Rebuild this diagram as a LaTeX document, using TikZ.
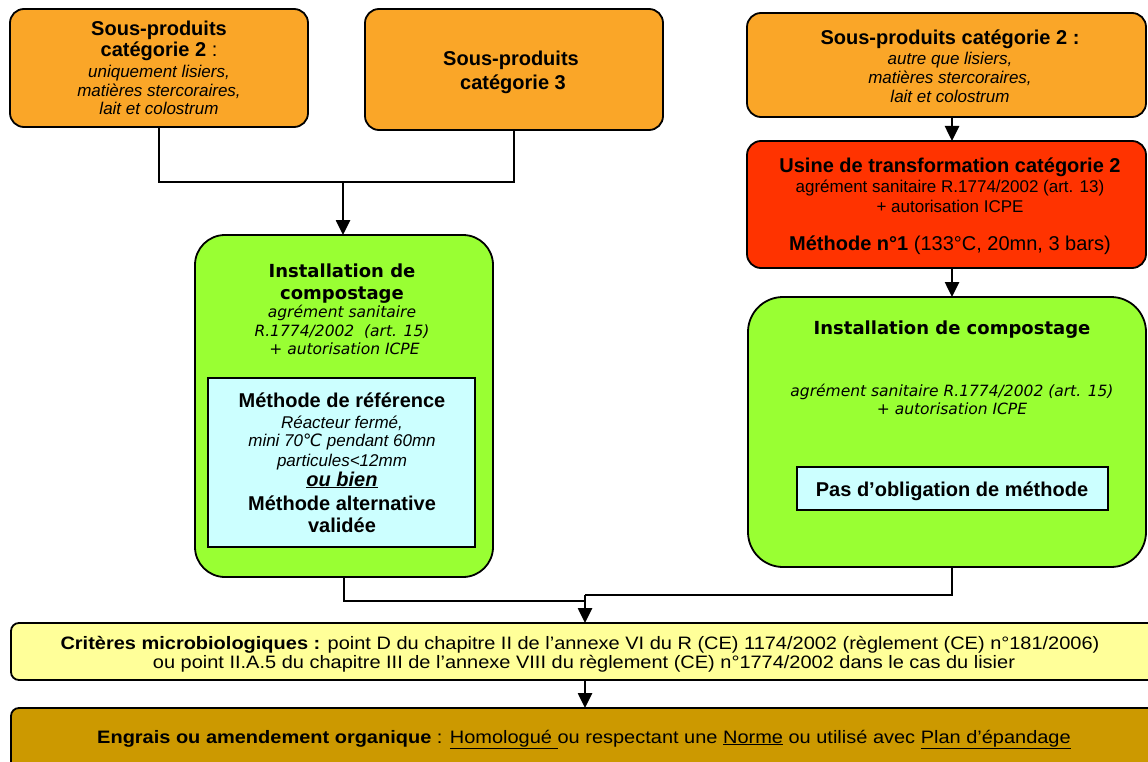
\documentclass[tikz,border=0pt]{standalone}
\usepackage{fontspec}
\setmainfont{Liberation Sans}
\newfontfamily\dvfont{DejaVu Sans}
\newfontfamily\widefont[FakeStretch=1.11]{Liberation Sans}
\usetikzlibrary{arrows.meta}
\definecolor{orng}{HTML}{FAA628}
\definecolor{redb}{HTML}{FF3300}
\definecolor{grn}{HTML}{99FF33}
\definecolor{lblue}{HTML}{CCFFFF}
\definecolor{ylw}{HTML}{FFFF99}
\definecolor{brwn}{HTML}{CC9900}
\newcommand\zzB{\fontsize{20}{24}\selectfont\bfseries}
\newcommand\zzR{\fontsize{20}{24}\selectfont\mdseries}
\newcommand\zzI{\fontsize{17}{20}\selectfont\itshape}
\newcommand\zzS{\fontsize{17}{20}\selectfont}
\newcommand\zzDB{\dvfont\fontsize{18}{22}\selectfont\bfseries}
\newcommand\zzDI{\dvfont\fontsize{15.5}{19}\selectfont\itshape}
\newcommand\zzY{\widefont\fontsize{18}{21}\selectfont}
\tikzset{
  box/.style={draw=black, line width=1.8pt, inner sep=0pt, outer sep=0pt, rectangle},
  rbox/.style={box, rounded corners=14pt},
  txt/.style={anchor=base, inner sep=0pt, outer sep=0pt},
  conn/.style={draw=black, line width=2.6pt},
  arr/.style={conn, -{Triangle[length=15pt,width=14pt]}}
}
\begin{document}
\begin{tikzpicture}[x=1pt,y=-1pt]
\useasboundingbox (0,0) rectangle (1148,762);
% boxes
\node[rbox, fill=orng, minimum width=298pt, minimum height=118pt] (A) at (159,68) {};
\node[rbox, fill=orng, minimum width=298pt, minimum height=121pt] (B) at (514,69.5) {};
\node[rbox, fill=orng, minimum width=399pt, minimum height=104pt] (C) at (946.5,65) {};
\node[rbox, fill=redb, minimum width=399pt, minimum height=127pt] (D) at (946.5,204.5) {};
\node[box, fill=grn, rounded corners=35pt, minimum width=398pt, minimum height=270pt] (E) at (947,432) {};
\node[box, fill=lblue, minimum width=311pt, minimum height=43pt] (Eb) at (952.5,488.5) {};
\node[box, fill=grn, rounded corners=30pt, minimum width=298pt, minimum height=342pt] (G) at (344,406) {};
\node[box, fill=lblue, minimum width=267pt, minimum height=169pt] (Gb) at (341.5,462.5) {};
\node[box, fill=ylw, rounded corners=8pt, minimum width=1149pt, minimum height=57pt] (Y) at (585.5,651.5) {};
\node[box, fill=brwn, rounded corners=8pt, minimum width=1149pt, minimum height=72pt] (Z) at (585.5,744) {};
% coordinates
\coordinate (X) at (952,0);
\coordinate (J1) at (343,182);
\coordinate (J2l) at (585,601);
\coordinate (J2r) at (585,595);
% connectors
\draw[conn] (A.south) |- (J1) -| (B.south);
\draw[arr] (J1) -- (G.north -| J1);
\draw[arr] (C.south -| X) -- (D.north -| X);
\draw[arr] (D.south -| X) -- (E.north -| X);
\draw[conn] (G.south) |- (J2l);
\draw[conn] (E.south -| X) |- (J2r);
\draw[arr] (J2r) -- (Y.north -| J2r);
\draw[arr] (Y.south -| J2r) -- (Z.north -| J2r);
% box A text
\node[txt] (a1) at (159,36) {\zzB Sous-produits};
\node[txt] (a2) at (159,57) {\zzB catégorie 2 \mdseries:};
\node[txt] (a3) at (159,78) {\zzI uniquement lisiers,};
\node[txt] (a4) at (159,97) {\zzI matières stercoraires,};
\node[txt] (a5) at (159,115) {\zzI lait et colostrum};
% box B text
\node[txt] (b1) at (511,66) {\zzB Sous-produits};
\node[txt] (b2) at (513,90) {\zzB catégorie 3};
% box C text
\node[txt] (c1) at (950,45) {\zzB Sous-produits catégorie 2 :};
\node[txt] (c2) at (950,65) {\zzI autre que lisiers,};
\node[txt] (c3) at (950,84) {\zzI matières stercoraires,};
\node[txt] (c4) at (950,103) {\zzI lait et colostrum};
% box D text
\node[txt] (d1) at (950,173) {\zzB Usine de transformation catégorie 2};
\node[txt] (d2) at (950,193) {\zzS agrément sanitaire R.1774/2002 (art. 13)};
\node[txt] (d3) at (950,212) {\zzS + autorisation ICPE};
\node[txt] (d4) at (950,251) {\zzB Méthode n°1 \zzR(133°C, 20mn, 3 bars)};
% box E text
\node[txt] (e1) at (952,334) {\zzDB Installation de compostage};
\node[txt] (e2) at (952,396) {\zzDI agrément sanitaire R.1774/2002 (art. 15)};
\node[txt] (e3) at (952,414) {\zzDI + autorisation ICPE};
\node[txt] (e4) at (952,496) {\zzB Pas d’obligation de méthode};
% box G text
\node[txt] (g1) at (342,277) {\zzDB Installation de};
\node[txt] (g2) at (342,299) {\zzDB compostage};
\node[txt] (g3) at (342,317) {\zzDI agrément sanitaire};
\node[txt] (g4) at (342,336) {\zzDI R.1774/2002~ (art. 15)};
\node[txt] (g5) at (342,354) {\zzDI ~+ autorisation ICPE};
\node[txt] (g6) at (342,407) {\zzB Méthode de référence};
\node[txt] (g7) at (342,428) {\zzI Réacteur fermé,};
\node[txt] (g8) at (342,446) {\zzI mini 70{\dvfont ℃} pendant 60mn};
\node[txt] (g9) at (342,466) {\zzI particules<12mm};
\node[txt] (g10) at (342,486) {\zzB\itshape \underline{ou bien}};
\node[txt] (g11) at (342,510) {\zzB Méthode alternative};
\node[txt] (g12) at (342,532) {\zzB validée};
% yellow text
\node[txt] (y1) at (580,649) {\zzY\textbf{Critères microbiologiques :} point D du chapitre II de l’annexe VI du R (CE) 1174/2002 (règlement (CE) n°181/2006)};
\node[txt] (y2) at (584,668) {\zzY ou point II.A.5 du chapitre III de l’annexe VIII du règlement (CE) n°1774/2002 dans le cas du lisier};
% brown text
\node[txt] (z1) at (584,743) {\zzY\textbf{Engrais ou amendement organique} : \underline{Homologué }ou respectant une \underline{Norme} ou utilisé avec \underline{Plan d’épandage}};
\end{tikzpicture}
\end{document}
